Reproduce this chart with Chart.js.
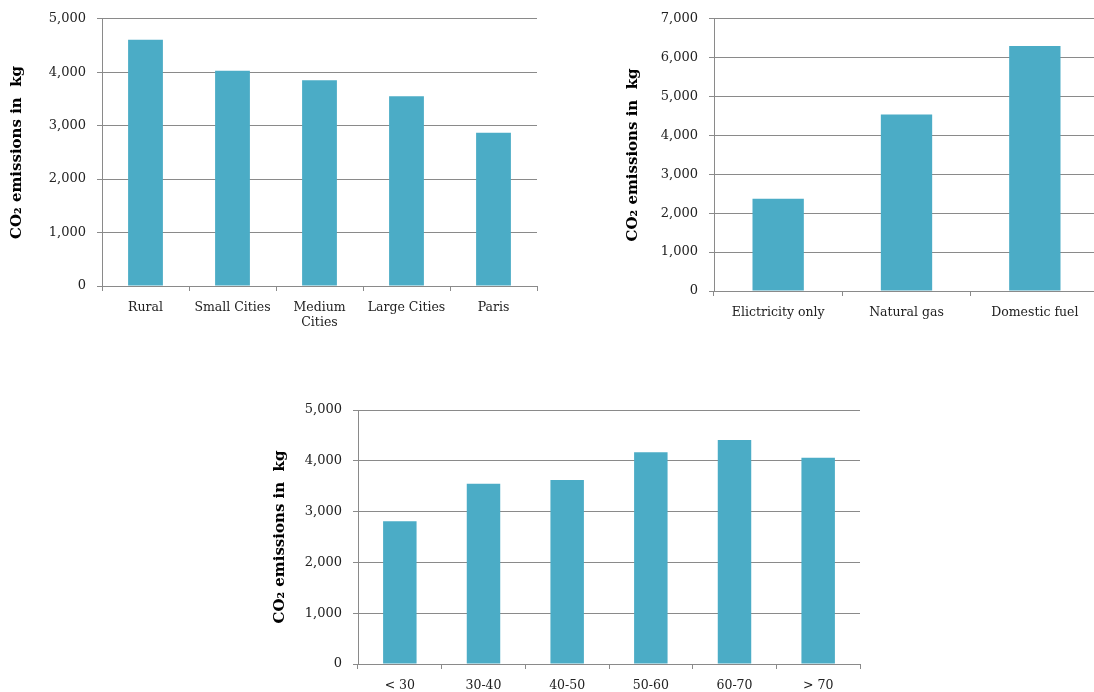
<!DOCTYPE html>
<html>
<head>
<meta charset="utf-8">
<title>CO2 emissions by household type</title>
<script src="https://cdn.jsdelivr.net/npm/chart.js"></script>
<style>
  html, body { margin: 0; padding: 0; background: #ffffff; overflow: hidden; }
  body { width: 1094px; height: 692px; position: relative; }
  .panel { position: absolute; }
</style>
</head>
<body>
<div class="panel" id="p1" style="left:0px; top:0px; width:545px; height:340px;"><canvas id="c1"></canvas></div>
<div class="panel" id="p2" style="left:600px; top:0px; width:500px; height:340px;"><canvas id="c2"></canvas></div>
<div class="panel" id="p3" style="left:260px; top:390px; width:605px; height:302px;"><canvas id="c3"></canvas></div>
<script>
// Emissions by place of residence
const settlementLabels = ['Rural', 'Small Cities', ['Medium', 'Cities'], 'Large Cities', 'Paris'];
const settlementValues = [4610, 4030, 3850, 3550, 2870];

// Emissions by heating energy
const heatingLabels = ['Elictricity only', 'Natural gas', 'Domestic fuel'];
const heatingValues = [2370, 4540, 6300];

// Emissions by age of the household head
const ageLabels = ['< 30', '30-40', '40-50', '50-60', '60-70', '> 70'];
const ageValues = [2810, 3550, 3620, 4170, 4410, 4060];

// Shared axis text and ranges
const yTitle = 'CO\u2082 emissions in  kg';
const settlementTicksMax = 5000;
const heatingTicksMax = 7000;
const ageTicksMax = 5000;

const BAR_COLOR = '#4BACC6';
const GRID_COLOR = '#8a8a8a';
const TEXT_COLOR = '#222222';

Chart.defaults.font.family = "'DejaVu Serif', serif";
Chart.defaults.color = TEXT_COLOR;

function makeBarChart(canvasId, labels, values, yMax, layout) {
  return new Chart(document.getElementById(canvasId), {
    type: 'bar',
    data: {
      labels: labels,
      datasets: [{
        data: values,
        backgroundColor: BAR_COLOR,
        borderWidth: 0,
        categoryPercentage: 1.0,
        barPercentage: 0.4
      }]
    },
    options: {
      responsive: true,
      maintainAspectRatio: false,
      animation: false,
      events: [],
      layout: { padding: layout.padding },
      plugins: { legend: { display: false }, tooltip: { enabled: false } },
      scales: {
        x: {
          type: 'category',
          offset: true,
          grid: {
            offset: true,
            drawOnChartArea: false,
            drawTicks: true,
            tickLength: 5,
            color: GRID_COLOR,
            lineWidth: 1
          },
          border: { display: true, color: GRID_COLOR, width: 1 },
          ticks: {
            autoSkip: false,
            maxRotation: 0,
            minRotation: 0,
            padding: 9,
            color: TEXT_COLOR,
            font: { size: 12.5 }
          },
          afterFit: (scale) => { scale.height = layout.xHeight; }
        },
        y: {
          min: 0,
          max: yMax,
          grid: {
            color: GRID_COLOR,
            lineWidth: 1,
            drawTicks: true,
            tickLength: 5
          },
          border: { display: true, color: GRID_COLOR, width: 1 },
          ticks: {
            stepSize: 1000,
            padding: 11,
            color: TEXT_COLOR,
            font: { size: 13 },
            callback: (v) => Number(v).toLocaleString('en-US')
          },
          title: {
            display: true,
            text: yTitle,
            color: '#000000',
            font: { size: 15, weight: 'bold' },
            padding: { top: layout.titlePad, bottom: 0 }
          },
          afterFit: (scale) => { scale.width = layout.yWidth; }
        }
      }
    }
  });
}

makeBarChart('c1', settlementLabels, settlementValues, settlementTicksMax, {
  padding: { top: 16, right: 8, bottom: 0, left: 0 },
  xHeight: 54, yWidth: 102, titlePad: 8
});

makeBarChart('c2', heatingLabels, heatingValues, heatingTicksMax, {
  padding: { top: 16, right: 1, bottom: 0, left: 0 },
  xHeight: 49, yWidth: 114, titlePad: 24
});

makeBarChart('c3', ageLabels, ageValues, ageTicksMax, {
  padding: { top: 20, right: 5, bottom: 0, left: 0 },
  xHeight: 28, yWidth: 98, titlePad: 11
});
</script>
</body>
</html>
